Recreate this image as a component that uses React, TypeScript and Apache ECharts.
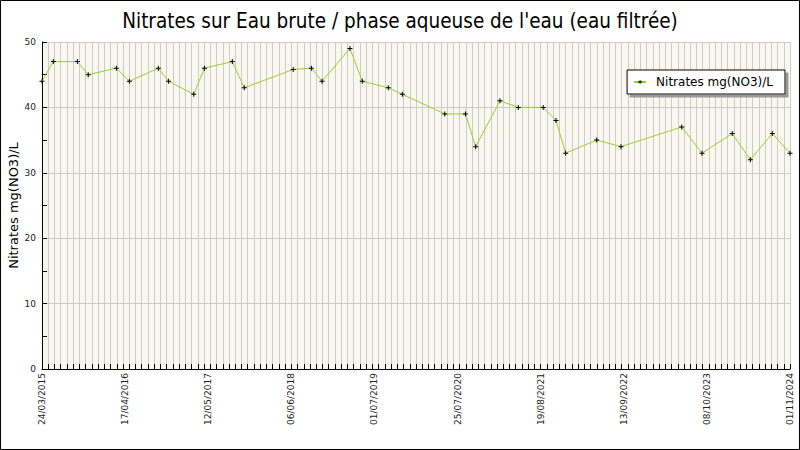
import React, { useEffect, useRef } from 'react';
import * as echarts from 'echarts';

// période de l'axe des abscisses
const START = '2015-03-24';
const END = '2024-11-01';

// dates de prélèvement
const sampleDates = [
  '2015-03-24', '2015-05-16', '2015-09-06', '2015-10-27', '2016-03-07',
  '2016-05-07', '2016-09-20', '2016-11-07', '2017-03-05', '2017-04-24',
  '2017-09-02', '2017-10-28', '2018-06-15', '2018-09-08', '2018-10-28',
  '2019-03-08', '2019-05-05', '2019-09-04', '2019-11-09', '2020-05-26',
  '2020-08-31', '2020-10-18', '2021-02-09', '2021-05-06', '2021-08-31',
  '2021-10-30', '2021-12-14', '2022-05-09', '2022-08-31', '2023-06-12',
  '2023-09-15', '2024-02-04', '2024-04-29', '2024-08-10', '2024-11-01',
];

// Nitrates mg(NO3)/L
const nitrates = [
  44, 47, 47, 45, 46,
  44, 46, 44, 42, 46,
  47, 43, 45.8, 46, 44,
  49, 44, 43, 42, 39,
  39, 34, 41, 40, 40,
  38, 33, 35, 34, 37,
  33, 36, 32, 36, 33,
];

const DAY = 86400000;
const t0 = Date.parse(START + 'T00:00:00Z');
const toDay = (s: string) => Math.round((Date.parse(s + 'T00:00:00Z') - t0) / DAY);
const SPAN = toDay(END);
const LABEL_STEP = SPAN / 9;
const MINOR_STEP = SPAN / 120;

const pad = (n: number) => (n < 10 ? '0' + n : '' + n);
const fmtDay = (d: number) => {
  const dt = new Date(t0 + Math.round(d) * DAY);
  return `${pad(dt.getUTCDate())}/${pad(dt.getUTCMonth() + 1)}/${dt.getUTCFullYear()}`;
};

const PLUS = 'path://M-0.2,-1H0.2V-0.2H1V0.2H0.2V1H-0.2V0.2H-1V-0.2H-0.2Z';

const NitratesChart: React.FC = () => {
  const chartRef = useRef<HTMLDivElement>(null);

  useEffect(() => {
    if (!chartRef.current) return;
    document.body.style.margin = '0';

    const chart = echarts.init(chartRef.current, null, { renderer: 'svg' });

    const option: echarts.EChartsOption = {
      animation: false,
      backgroundColor: '#fff',
      title: {
        text: "Nitrates sur Eau brute / phase aqueuse de l'eau (eau filtrée)",
        left: 'center',
        top: 5,
        textStyle: { fontFamily: 'DejaVu Sans Condensed', fontSize: 20.5, fontWeight: 'normal', color: '#000' },
      },
      legend: {
        right: 15,
        top: 70,
        orient: 'vertical',
        backgroundColor: '#fff',
        borderColor: '#000',
        borderWidth: 1,
        borderRadius: 0,
        padding: [6, 12, 6, 6],
        shadowColor: '#999',
        shadowBlur: 0,
        shadowOffsetX: 3,
        shadowOffsetY: 3,
        itemWidth: 12,
        itemHeight: 5,
        textStyle: { fontFamily: 'DejaVu Sans', fontSize: 12, color: '#000', padding: [0, 0, 0, 5] },
        data: ['Nitrates mg(NO3)/L'],
      },
      grid: {
        left: 42,
        right: 10,
        top: 42,
        bottom: 81,
        show: true,
        backgroundColor: '#f8f8ef',
        borderWidth: 0,
        containLabel: false,
        outerBoundsMode: 'none',
      } as any,
      xAxis: [
        {
          type: 'value',
          min: 0,
          max: SPAN,
          interval: LABEL_STEP,
          axisLine: { show: true, lineStyle: { color: '#000', width: 1 } },
          axisTick: { show: false },
          splitLine: { show: false },
          axisLabel: {
            rotate: 90,
            margin: 4,
            fontFamily: 'DejaVu Sans',
            fontSize: 9,
            color: '#222',
            formatter: (v: number) => fmtDay(v),
          },
        },
        {
          type: 'value',
          min: 0,
          max: SPAN,
          interval: MINOR_STEP,
          position: 'bottom',
          axisLine: { show: false },
          axisTick: { show: true, inside: true, length: 5, lineStyle: { color: '#000' } },
          axisLabel: { show: false },
          splitLine: { show: true, lineStyle: { color: '#cccccc', width: 1 } },
        },
      ],
      yAxis: {
        type: 'value',
        min: 0,
        max: 50,
        interval: 10,
        name: 'Nitrates mg(NO3)/L',
        nameLocation: 'middle',
        nameGap: 22,
        nameMoveOverlap: false,
        nameTextStyle: { fontFamily: 'DejaVu Sans', fontSize: 13, color: '#000' },
        axisLine: { show: true, lineStyle: { color: '#000', width: 1 } },
        axisTick: { show: true, inside: true, length: 5, lineStyle: { color: '#000' } },
        minorTick: { show: true, splitNumber: 2, length: 5, lineStyle: { color: '#000' } },
        axisLabel: { margin: 6, fontFamily: 'DejaVu Sans', fontSize: 9, color: '#222' },
        splitLine: { show: true, lineStyle: { color: '#cccccc', width: 1 } },
      } as any,
      series: [
        {
          name: 'Nitrates mg(NO3)/L',
          type: 'line',
          xAxisIndex: 0,
          data: sampleDates.map((d, i) => [toDay(d), nitrates[i]]),
          symbol: PLUS,
          symbolSize: 5,
          showSymbol: true,
          itemStyle: { color: '#000' },
          lineStyle: { color: '#9acd32', width: 1 },
        },
      ],
      graphic: [
        {
          type: 'rect',
          shape: { x: 0.5, y: 0.5, width: 799, height: 449 },
          style: { fill: 'none', stroke: '#000', lineWidth: 1 },
          silent: true,
          z: 100,
        },
      ],
    };

    chart.setOption(option);

    return () => {
      chart.dispose();
    };
  }, []);

  return <div ref={chartRef} style={{ width: 800, height: 450 }} />;
};

export default function App() {
  return <NitratesChart />;
}
